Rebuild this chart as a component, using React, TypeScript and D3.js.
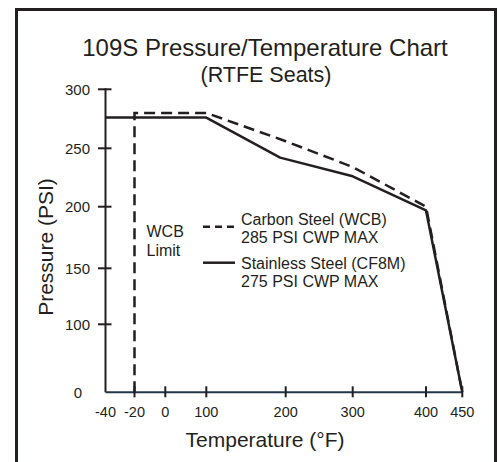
import React from 'react'
import * as d3 from 'd3'

// axis ticks (the source chart uses an uneven spacing on both axes)
const tempTicks = [-40, -20, 0, 100, 200, 300, 400, 450]
const psiTicks = [0, 100, 150, 200, 250, 300]

// Carbon Steel (WCB) - dashed
const carbonTemp = [-20, -20, 100, 200, 300, 400, 450]
const carbonPsi = [0, 280, 280, 256, 234, 200, 0]

// Stainless Steel (CF8M) - solid
const stainlessTemp = [-40, 100, 193, 300, 400, 450]
const stainlessPsi = [276, 276, 242, 226, 197, 0]

const legendItems = [
  { name: 'Carbon Steel (WCB)', sub: '285 PSI CWP MAX', dash: '7,5' },
  { name: 'Stainless Steel (CF8M)', sub: '275 PSI CWP MAX', dash: null },
]

const FONT = '"Liberation Sans", Arial, Helvetica, sans-serif'
const INK = '#231f20'

export default function App() {
  const width = 499
  const height = 462

  const x = d3.scaleLinear()
    .domain(tempTicks)
    .range([105.5, 134.5, 165.3, 206.3, 285.7, 352.7, 426, 462.3])

  const y = d3.scaleLinear()
    .domain(psiTicks)
    .range([392.3, 324.3, 268.3, 206.7, 148.3, 89.3])

  const line = d3.line<[number, number]>()
    .x(d => x(d[0]))
    .y(d => y(d[1]))

  const carbon = carbonTemp.map((t, i) => [t, carbonPsi[i]] as [number, number])
  const stainless = stainlessTemp.map((t, i) => [t, stainlessPsi[i]] as [number, number])

  const x0 = x(-40)
  const y0 = y(0)

  return (
    <svg
      width={width}
      height={height}
      style={{ position: 'absolute', left: 0, top: 0, background: '#fff' }}
      fontFamily={FONT}
    >
      {/* frame */}
      <rect x={16.5} y={9.5} width={479} height={480} fill="none" stroke={INK} strokeWidth={3} />

      {/* titles */}
      <text x={265} y={56} textAnchor="middle" fontSize={24} fill={INK}>
        109S Pressure/Temperature Chart
      </text>
      <text x={266} y={82} textAnchor="middle" fontSize={21.5} fill={INK}>
        (RTFE Seats)
      </text>

      {/* y axis */}
      <line x1={x0} x2={x0} y1={y0} y2={y(300) - 1} stroke={INK} strokeWidth={2} />
      {psiTicks.filter(v => v > 0).map(v => (
        <g key={v}>
          <line x1={x0 - 7.5} x2={x0 + 6} y1={y(v)} y2={y(v)} stroke={INK} strokeWidth={2} />
          <text x={90} y={y(v)} dy="0.36em" textAnchor="end" fontSize={15} fill={INK}>{v}</text>
        </g>
      ))}
      <text x={82} y={y0} dy="0.36em" textAnchor="end" fontSize={15} fill={INK}>0</text>

      {/* x axis */}
      <line x1={x0} x2={x(450)} y1={y0} y2={y0} stroke="#22384a" strokeWidth={2} />
      {tempTicks.map(v => (
        <g key={v}>
          {v > -40 && (
            <line x1={x(v)} x2={x(v)} y1={y0 - 6} y2={y0 + 5} stroke={INK} strokeWidth={2} />
          )}
          <text x={x(v)} y={416.5} textAnchor="middle" fontSize={14.5} fill={INK}>{v}</text>
        </g>
      ))}

      {/* axis titles */}
      <text x={265} y={446.5} textAnchor="middle" fontSize={21} fill={INK}>
        Temperature (°F)
      </text>
      <text
        transform={`translate(53,247) rotate(-90)`}
        textAnchor="middle"
        fontSize={21}
        fill={INK}
      >
        Pressure (PSI)
      </text>

      {/* series */}
      <path d={line(carbon) ?? ''} fill="none" stroke={INK} strokeWidth={2.5} strokeDasharray="11,6" />
      <path d={line(stainless) ?? ''} fill="none" stroke={INK} strokeWidth={2.5} strokeLinejoin="round" />

      {/* WCB limit label */}
      <text x={146.5} y={236.7} fontSize={16} fill={INK}>WCB</text>
      <text x={146.5} y={256} fontSize={16} fill={INK}>Limit</text>

      {/* legend */}
      {legendItems.map((d, i) => {
        const ly = 226.7 + i * 36
        const ty = 225 + i * 44
        return (
          <g key={d.name}>
            <line
              x1={203}
              x2={235}
              y1={ly}
              y2={ly}
              stroke={INK}
              strokeWidth={2.5}
              strokeDasharray={d.dash ?? undefined}
            />
            <text x={241} y={ty} fontSize={16} fill={INK}>{d.name}</text>
            <text x={241} y={ty + 18.3} fontSize={16} fill={INK}>{d.sub}</text>
          </g>
        )
      })}
    </svg>
  )
}
